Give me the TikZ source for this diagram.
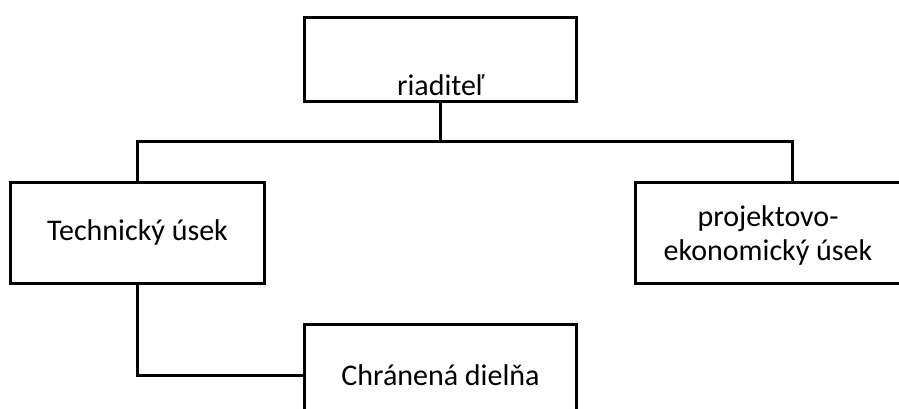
\documentclass[tikz,border=0pt]{standalone}
\usepackage{fontspec}
\setmainfont{Carlito}
\usetikzlibrary{positioning}

\tikzset{unit/.style={draw, line width=3pt, anchor=north west, align=center, inner sep=0pt}}

\begin{document}
\begin{tikzpicture}[x=1pt,y=-1pt,line width=3pt,font=\fontsize{30}{34}\selectfont]
	\useasboundingbox (0,0) rectangle (899,409);
	\clip (0,0) rectangle (899,409);
	\node[unit,minimum width=272pt,minimum height=84pt,text height=75pt,text depth=3pt,inner ysep=3pt] (riaditel) at (303,16) {riaditeľ};
	\node[unit,minimum width=254pt,minimum height=101pt] (technicky) at (9,181) {Technický úsek};
	\node[unit,minimum width=314pt,minimum height=101pt] (projekt) at (634,181) {};
	\node[align=center] (projtext) at (768,236) {projektovo-\\ekonomický úsek};
	\node[unit,minimum width=272pt,minimum height=101pt] (dielna) at (303,323) {Chránená dielňa};
	\coordinate (bus) at (0,141);
	\draw (riaditel.south) -- (riaditel.south |- bus);
	\draw (technicky.north) |- (bus -| projekt.north) -- (projekt.north);
	\draw (technicky.south) |- (dielna.west);
\end{tikzpicture}
\end{document}
